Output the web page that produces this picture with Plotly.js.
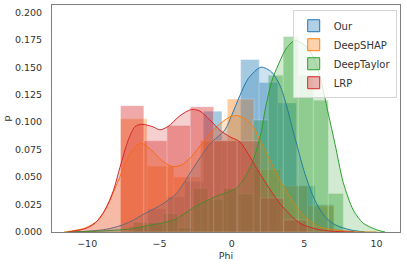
<!DOCTYPE html>
<html>
<head>
<meta charset="utf-8">
<script src="https://cdn.plot.ly/plotly-3.0.1.min.js"></script>
<style>
html,body{margin:0;padding:0;background:#fff;}
#chart{width:407px;height:265px;}
</style>
</head>
<body>
<div id="chart"></div>
<script>
// ---- Data ----
const seriesNames = ["Our", "DeepSHAP", "DeepTaylor", "LRP"];

// Histogram bins (centers, heights, bin width)
const ourCenters = [-6.47, -5.19, -3.90, -2.61, -1.33, -0.04, 1.25, 2.53, 3.82, 5.11, 6.39];
const ourHeights = [0.005, 0.021, 0.032, 0.046, 0.110, 0.083, 0.157, 0.136, 0.1175, 0.042, 0.025];
const ourBinWidth = 1.287;

const shapCenters = [-6.78, -4.93, -3.08, -1.24, 0.61, 2.46, 4.30, 6.15];
const shapHeights = [0.103, 0.060, 0.050, 0.083, 0.121, 0.057, 0.042, 0.024];
const shapBinWidth = 1.847;

const taylorCenters = [-6.31, -5.27, -4.23, -3.20, -2.16, -1.12, -0.08, 0.96, 1.99, 3.03, 4.07, 5.11, 6.15, 7.18];
const taylorHeights = [0.009, 0.009, 0.017, 0.004, 0.040, 0.030, 0.040, 0.035, 0.102, 0.1426, 0.178, 0.1426, 0.120, 0.035];
const taylorBinWidth = 1.038;

const lrpCenters = [-6.89, -5.28, -3.67, -2.06, -0.45, 1.17, 2.78, 4.39];
const lrpHeights = [0.115, 0.083, 0.097, 0.114, 0.083, 0.083, 0.031, 0.011];
const lrpBinWidth = 1.612;

// KDE curves
const ourKdeX = [-10.86, -8.90, -7.89, -6.92, -6.14, -4.98, -3.83, -2.68, -1.52, -0.48, -0.02, 0.55, 1.13, 2.01, 2.75, 3.32, 3.78, 4.13, 4.48, 5.05, 5.74, 6.43, 7.13, 8.16, 9.20];
const ourKdeY = [0, 0.002, 0.005, 0.010, 0.016, 0.024, 0.035, 0.058, 0.080, 0.093, 0.106, 0.124, 0.1396, 0.150, 0.1456, 0.1335, 0.115, 0.097, 0.080, 0.053, 0.029, 0.014, 0.0066, 0.002, 0];

const shapKdeX = [-11.6, -11.30, -10.15, -9.22, -8.53, -7.84, -7.15, -6.57, -6.23, -5.44, -4.75, -4.06, -3.48, -2.79, -1.99, -1.06, -0.14, 0.35, 0.90, 1.47, 1.94, 2.51, 3.20, 4.01, 4.82, 5.97, 7.13, 8.51, 10.0];
const shapKdeY = [0, 0.0005, 0.0036, 0.011, 0.026, 0.047, 0.0686, 0.079, 0.0807, 0.073, 0.064, 0.0595, 0.061, 0.0686, 0.082, 0.0957, 0.1048, 0.106, 0.103, 0.0957, 0.0837, 0.0686, 0.050, 0.032, 0.017, 0.005, 0.002, 0.0003, 0];

const taylorKdeX = [-11.42, -8.90, -6.90, -6.14, -4.01, -2.68, -1.18, 0.33, 1.13, 1.59, 2.05, 2.28, 2.75, 3.20, 3.81, 4.39, 5.28, 5.97, 6.66, 7.13, 7.70, 8.39, 9.08, 10.01, 10.59];
const taylorKdeY = [0, 0.001, 0.003, 0.005, 0.011, 0.022, 0.032, 0.040, 0.055, 0.070, 0.092, 0.110, 0.137, 0.152, 0.168, 0.1743, 0.167, 0.147, 0.108, 0.080, 0.045, 0.020, 0.008, 0.002, 0];

const lrpKdeX = [-11.3, -11.07, -10.15, -9.46, -8.77, -8.18, -7.73, -7.15, -6.69, -6.23, -5.44, -4.98, -4.41, -3.60, -2.79, -2.21, -1.52, -0.83, -0.14, 0.55, 1.94, 3.32, 4.71, 6.09, 7.47, 8.4];
const lrpKdeY = [0, 0.0005, 0.003, 0.008, 0.020, 0.038, 0.059, 0.084, 0.096, 0.098, 0.0957, 0.093, 0.096, 0.1057, 0.1115, 0.110, 0.102, 0.0927, 0.0867, 0.082, 0.053, 0.026, 0.008, 0.002, 0.0003, 0];

const xTickVals = [-10, -5, 0, 5, 10];
const yTickVals = [0, 0.025, 0.05, 0.075, 0.1, 0.125, 0.15, 0.175, 0.2];

// ---- Styling ----
const rgb = {
  Our: [31, 119, 180],
  DeepSHAP: [255, 127, 14],
  DeepTaylor: [44, 160, 44],
  LRP: [214, 39, 40]
};
const rgba = (c, a) => `rgba(${c[0]},${c[1]},${c[2]},${a})`;

const hists = [
  [ourCenters, ourHeights, ourBinWidth],
  [shapCenters, shapHeights, shapBinWidth],
  [taylorCenters, taylorHeights, taylorBinWidth],
  [lrpCenters, lrpHeights, lrpBinWidth]
];
const kdes = [
  [ourKdeX, ourKdeY],
  [shapKdeX, shapKdeY],
  [taylorKdeX, taylorKdeY],
  [lrpKdeX, lrpKdeY]
];

const traces = [];
seriesNames.forEach((name, i) => {
  const [cx, h, w] = hists[i];
  traces.push({
    type: 'bar', x: cx, y: h, width: cx.map(() => w),
    marker: { color: rgba(rgb[name], 0.4), line: { color: 'rgba(255,255,255,0.45)', width: 0.8 } },
    showlegend: false, hoverinfo: 'skip'
  });
});
seriesNames.forEach((name, i) => {
  const [kx, ky] = kdes[i];
  traces.push({
    type: 'scatter', mode: 'lines', x: kx, y: ky,
    line: { color: rgb[name] ? rgba(rgb[name], 1) : '#000', width: 1, shape: 'spline', smoothing: 0.8 },
    fill: 'tozeroy', fillcolor: rgba(rgb[name], 0.22),
    showlegend: false, hoverinfo: 'skip'
  });
});
// legend proxies
seriesNames.forEach((name) => {
  traces.push({
    type: 'bar', x: [null], y: [null], name: name,
    marker: { color: rgba(rgb[name], 0.35), line: { color: rgba(rgb[name], 1), width: 1 } },
    showlegend: true, hoverinfo: 'skip'
  });
});

const fontFam = 'DejaVu Sans, sans-serif';
const layout = {
  width: 407, height: 265,
  margin: { l: 52, r: 7, t: 5, b: 33, pad: 0 },
  paper_bgcolor: '#fff', plot_bgcolor: '#fff',
  barmode: 'overlay', bargap: 0,
  font: { family: fontFam, size: 9.5, color: '#333' },
  xaxis: {
    range: [-12.43, 11.62], tickvals: xTickVals, ticktext: xTickVals.map(v => v < 0 ? '\u2212' + Math.abs(v) : String(v)),
    showgrid: false, zeroline: false, showline: true, mirror: true, linecolor: '#7f7f7f', linewidth: 1,
    ticks: 'outside', ticklen: 3, tickcolor: 'rgba(0,0,0,0)',
    tickfont: { family: fontFam, size: 9.5, color: '#333' },
    title: { text: 'Phi', font: { family: fontFam, size: 9.5, color: '#333' }, standoff: 3 }
  },
  yaxis: {
    range: [0, 0.2066], tickvals: yTickVals, tickformat: '.3f',
    showgrid: false, zeroline: false, showline: true, mirror: true, linecolor: '#7f7f7f', linewidth: 1,
    ticks: 'outside', ticklen: 7, tickcolor: 'rgba(0,0,0,0)',
    tickfont: { family: fontFam, size: 9.5, color: '#333' },
    title: { text: 'p', font: { family: fontFam, size: 9.5, color: '#333' }, standoff: 2 }
  },
  legend: {
    x: 0.9905, y: 0.977, xanchor: 'right', yanchor: 'top',
    bgcolor: 'rgba(255,255,255,0.8)', bordercolor: '#d6d6d6', borderwidth: 1,
    font: { family: fontFam, size: 10, color: '#333' },
    traceorder: 'normal', tracegroupgap: 0
  }
};

Plotly.newPlot('chart', traces, layout, { staticPlot: true, displayModeBar: false });
</script>
</body>
</html>
